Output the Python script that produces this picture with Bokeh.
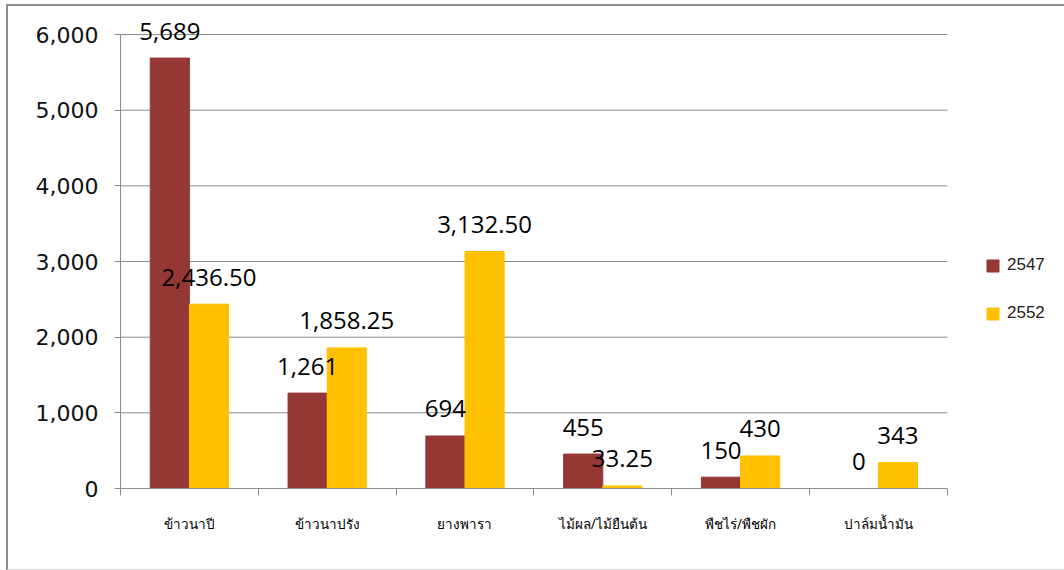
from bokeh.plotting import figure
from bokeh.models import (ColumnDataSource, Range1d, LinearAxis, FixedTicker,
                          NumeralTickFormatter, Legend, LegendItem, LabelSet)
from bokeh.core.properties import value
from bokeh.embed import file_html
from bokeh.resources import INLINE

categories = ["ข้าวนาปี", "ข้าวนาปรัง", "ยางพารา", "ไม้ผล/ไม้ยืนต้น", "พืชไร่/พืชผัก", "ปาล์มน้ำมัน"]
series_names = ["2547", "2552"]
values_2547 = [5689, 1261, 694, 455, 150, 0]
values_2552 = [2436.50, 1858.25, 3132.50, 33.25, 430, 343]
y_ticks = [0, 1000, 2000, 3000, 4000, 5000, 6000]

COL_A = "#953735"
COL_B = "#FFC000"
GRID = "#8c8c8c"
BAR_W = 0.284
OFF = BAR_W / 2
N = len(categories)


def fmt(v):
    return f"{v:,.0f}" if float(v).is_integer() else f"{v:,.2f}"


centers = [i + 0.5 for i in range(N)]
src = ColumnDataSource(dict(
    xa=[c - OFF for c in centers],
    xb=[c + OFF for c in centers],
    a=values_2547,
    b=values_2552,
    la=[fmt(v) for v in values_2547],
    lb=[fmt(v) for v in values_2552],
))

y_top = max(y_ticks) * 475 / 453      # headroom above the top tick for value labels
x_end = N * 930 / 825                 # room on the right for the legend

p = figure(width=1058, height=566, x_range=Range1d(0, x_end),
           y_range=Range1d(0, y_top), output_backend="svg", toolbar_location=None,
           x_axis_type=None, min_border_left=112, min_border_top=6,
           min_border_bottom=84, min_border_right=14)
p.outline_line_color = None
p.background_fill_color = "white"
p.border_fill_color = "white"
p.styles = {"border-left": "2px solid #8c8c8c", "border-top": "2px solid #8c8c8c",
            "border-bottom": "1px solid #d9d9d9",
            "margin-left": "6px", "margin-top": "4px"}

# y axis
yax = p.yaxis[0]
yax.ticker = FixedTicker(ticks=y_ticks)
yax.bounds = (min(y_ticks), max(y_ticks))
yax.formatter = NumeralTickFormatter(format="0,0")
yax.axis_line_color = GRID
yax.major_tick_line_color = GRID
yax.major_tick_out = 6
yax.major_tick_in = 0
yax.minor_tick_line_color = None
yax.major_label_text_font = "DejaVu Sans"
yax.major_label_text_font_size = "22px"
yax.major_label_text_color = "#111111"
yax.major_label_standoff = 16
p.ygrid.visible = False

# horizontal grid lines limited to the category area
p.segment(x0=[0] * len(y_ticks), x1=[N] * len(y_ticks), y0=y_ticks, y1=y_ticks,
          line_color=GRID, line_width=1)

# x axis: labels at category centres, tick marks (minor) at category boundaries
xax = LinearAxis(ticker=FixedTicker(ticks=centers, minor_ticks=list(range(N + 1))),
                 bounds=(0, N),
                 major_label_overrides={c: n for c, n in zip(centers, categories)},
                 axis_line_color=GRID, major_tick_line_color=None,
                 major_tick_out=0, major_tick_in=0,
                 minor_tick_line_color=GRID, minor_tick_out=7, minor_tick_in=0,
                 major_label_standoff=19,
                 major_label_text_font="Noto Sans",
                 major_label_text_font_size="13.5px",
                 major_label_text_color="#000000")
p.add_layout(xax, "below")

ra = p.vbar(x="xa", top="a", width=BAR_W, color=COL_A, source=src)
rb = p.vbar(x="xb", top="b", width=BAR_W, color=COL_B, source=src)

for xf, yf, tf in (("xa", "a", "la"), ("xb", "b", "lb")):
    p.add_layout(LabelSet(x=xf, y=yf, text=tf, source=src, text_align="center",
                          text_baseline="middle", y_offset=27,
                          text_font=value("Open Sans"), text_font_size="24px",
                          text_color="#000000"))

legend = Legend(items=[LegendItem(label=series_names[0], renderers=[ra]),
                       LegendItem(label=series_names[1], renderers=[rb])],
                location=(865, 165))
legend.border_line_color = None
legend.background_fill_color = None
legend.glyph_width = 15
legend.glyph_height = 15
legend.label_text_font = "Liberation Sans"
legend.label_text_font_size = "17px"
legend.label_text_color = "#222222"
legend.spacing = 28
legend.padding = 10
legend.margin = 0
legend.label_standoff = 7
p.add_layout(legend, "center")

open("out.html", "w").write(file_html(p, INLINE))
